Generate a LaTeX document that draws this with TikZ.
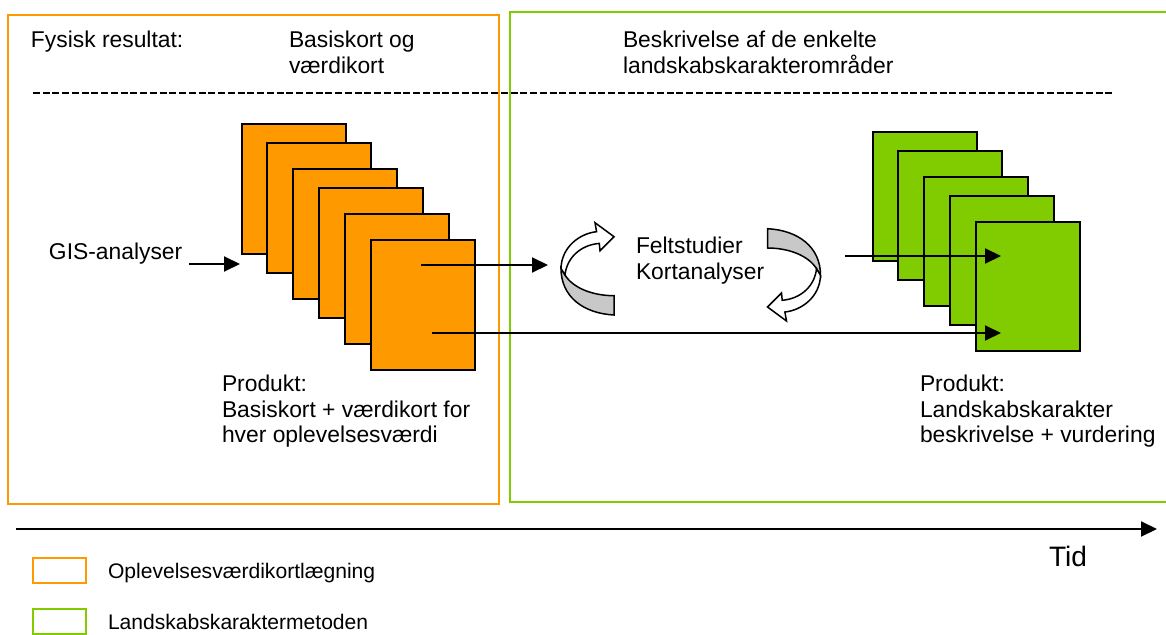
\documentclass[tikz,border=0pt]{standalone}
\usepackage{fontspec}
\setmainfont{Liberation Sans}
\usetikzlibrary{arrows.meta}
\definecolor{orangekort}{RGB}{255,153,0}
\definecolor{groenkort}{RGB}{128,204,0}
\definecolor{baandgraa}{RGB}{200,200,200}
% loop arrow, drawn round the origin
\newcommand\tolkloekke{%
  \filldraw[fill=baandgraa,line width=0.03cm](-22.8,6.3) .. controls (-14.5,19.7) and (5.5,27) .. (26.2,27)
    -- (26.2,46.3) .. controls (-4.5,44.7) and (-26.8,28) .. (-26.8,-0.3) -- cycle;
  \filldraw[fill=white,line width=0.03cm](-26.8,-0.3) .. controls (-26.2,-22) and (-7.8,-35.3) .. (8.8,-37)
    -- (7.2,-46) -- (26.2,-32) -- (12.2,-18) -- (11.5,-25.3)
    .. controls (-7.8,-23.7) and (-21.2,-10.3) .. (-22.8,6.3) -- cycle;}
\begin{document}
\begin{tikzpicture}[x=0.02cm,y=-0.02cm,line width=0.04cm,font=\fontsize{13}{14.6}\selectfont,
  tekst/.style={inner sep=0pt,align=left},
  kort/.style={draw=black,minimum width=2.08cm,minimum height=2.6cm,anchor=north west,inner sep=0pt},
  pil/.style={-{Triangle[length=0.32cm,width=0.3cm]}}]
\useasboundingbox (0,0) rectangle (1166,635);
\draw[orangekort](8,15)rectangle(499,504);
\draw[groenkort](510,12)rectangle(1175,502);
\draw[dash pattern=on 0.14cm off 0.055cm,line width=0.045cm](33,93)--(1112,93);
\node[tekst,anchor=north west] (fysisk) at (30,30) {Fysisk resultat:};
\node[tekst,anchor=north west] (basis) at (288,30) {Basiskort og\\værdikort};
\node[tekst,anchor=north west] (beskriv) at (622,30) {Beskrivelse af de enkelte\\landskabskarakterområder};
\foreach \i/\x/\y in {1/241/123,2/266/142,3/292/168,4/318/187,5/344/213,6/370/239}
  \node[kort,fill=orangekort] (o\i) at (\x,\y) {};
\foreach \i/\x/\y in {1/872/131,2/897/150,3/923/176,4/949/195,5/975/221}
  \node[kort,fill=groenkort,minimum height=2.58cm] (g\i) at (\x,\y) {};
\begin{scope}[shift={(587.8,268.7)}] \tolkloekke \end{scope}
\begin{scope}[shift={(793.7,275)},rotate=180] \tolkloekke \end{scope}
\node[tekst,anchor=base west] (gis) at (48,259.5) {GIS-analyser};
\node[tekst,anchor=north west] (felt) at (635,236) {Feltstudier\\Kortanalyser};
\node[tekst,anchor=north west] (produktO) at (221,374) {Produkt:\\Basiskort + værdikort for\\hver oplevelsesværdi};
\node[tekst,anchor=north west] (produktG) at (919,374) {Produkt:\\Landskabskarakter\\beskrivelse + vurdering};
% arrow ends
\coordinate (gisUd) at (189,264);  \coordinate (oInd) at (240,264);
\coordinate (oUd1) at (421,265);   \coordinate (loekkeInd) at (548,265);
\coordinate (oUd2) at (432,333);   \coordinate (gInd2) at (1001,333);
\coordinate (loekkeUd) at (845,256); \coordinate (gInd1) at (1001,256);
\coordinate (tidStart) at (16,529); \coordinate (tidSlut) at (1157,529);
\draw[pil](gisUd)--(oInd);
\draw[pil](oUd1)--(loekkeInd);
\draw[pil](oUd2)--(gInd2);
\draw[pil](loekkeUd)--(gInd1);
\draw[pil](tidStart)--(tidSlut);
\node[tekst,anchor=base west,font=\fontsize{16}{19}\selectfont] (tid) at (1048,566) {Tid};
% legend
\draw[orangekort](33,558)rectangle(86,583);
\draw[groenkort](33,609)rectangle(86,634);
\node[tekst,anchor=base west,font=\fontsize{12}{14}\selectfont] (legO) at (107,578.5) {Oplevelsesværdikortlægning};
\node[tekst,anchor=base west,font=\fontsize{12}{14}\selectfont] (legG) at (107,629.5) {Landskabskaraktermetoden};
\end{tikzpicture}
\end{document}
